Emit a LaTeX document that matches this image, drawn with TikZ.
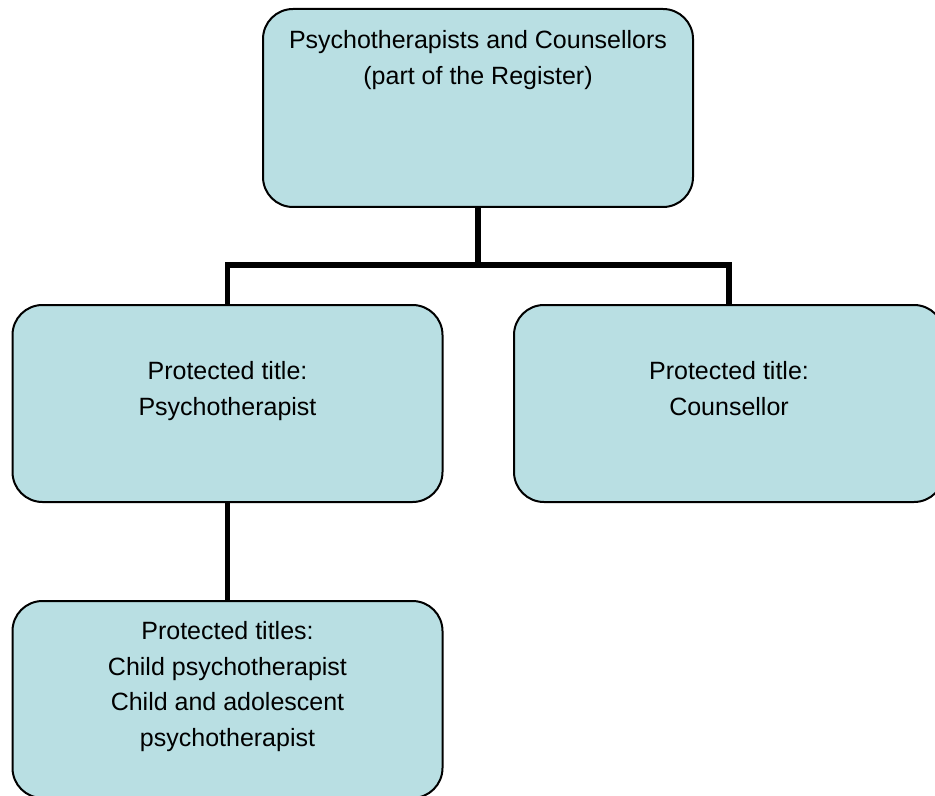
\documentclass[tikz,border=0pt]{standalone}
\usepackage{fontspec}
\setmainfont{Liberation Sans}
\usepackage{xcolor}
\usepackage{tikz}
\usetikzlibrary{calc}
\definecolor{boxfill}{HTML}{B9DFE3}
\definecolor{ink}{HTML}{000000}
\tikzset{
  box/.style={draw=ink, fill=boxfill, line width=1pt, rounded corners=15pt,
    minimum width=215pt, minimum height=98.5pt, inner sep=0pt},
  link/.style={draw=ink, line width=2.75pt},
  lab/.style={text=ink, align=center, inner sep=0pt,
    font=\fontsize{12.5}{17.75}\selectfont},
}

\begin{document}
\begin{tikzpicture}[x=0.5pt, y=-0.5pt]
  \useasboundingbox (0,0) rectangle (935,796);
  % boxes
  \node[box, minimum height=99pt] (reg) at (478,108) {};
  \node[box] (psy) at (227.5,403.5) {};
  \node[box] (cou) at (729,403.5) {};
  \node[box] (chd) at (227.5,699.5) {};
  \coordinate (bus) at (478,265);

  % connectors
  \draw[link] (reg.south) -- (bus);
  \draw[link] (psy.north) |- (bus) -| (cou.north);
  \draw[link] (psy.south) -- (chd.north);

  % texts
  \node[lab, anchor=north] (regtxt) at ($(reg.north)+(0,22)$)
    {Psychotherapists and Counsellors\\(part of the Register)};
  \node[lab, anchor=north] (psytxt) at ($(psy.north)+(0,57)$)
    {Protected title:\\Psychotherapist};
  \node[lab, anchor=north] (coutxt) at ($(cou.north)+(0,57)$)
    {Protected title:\\Counsellor};
  \node[lab, anchor=north] (chdtxt) at ($(chd.north)+(0,21)$)
    {Protected titles:\\Child psychotherapist\\Child and adolescent\\psychotherapist};
\end{tikzpicture}
\end{document}
